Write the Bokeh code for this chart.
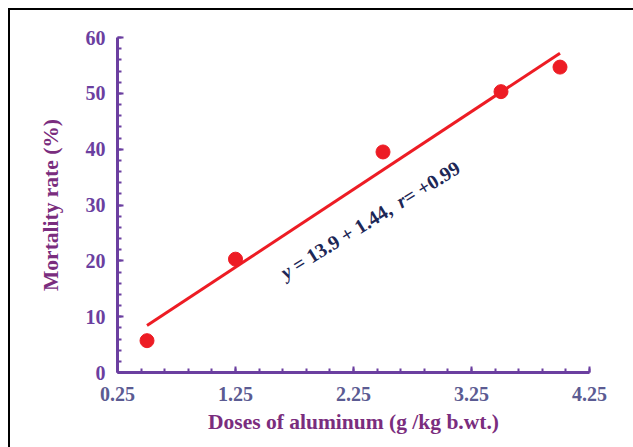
import math
import numpy as np
from bokeh.plotting import figure
from bokeh.models import Range1d, FixedTicker, Label
from bokeh.embed import file_html
from bokeh.resources import INLINE

# ---- data ----
dose = [0.5, 1.25, 2.5, 3.5, 4.0]
mortality = [5.7, 20.3, 39.5, 50.3, 54.7]
fit_x = [0.5, 4.0]
fit_y = [8.4, 57.2]
x_ticks = [0.25, 1.25, 2.25, 3.25, 4.25]
x_tick_labels = ["0.25", "1.25", "2.25", "3.25", "4.25"]
y_ticks = [0, 10, 20, 30, 40, 50, 60]
eq_pieces = ["y", "= 13.9 + 1.44,", "r", "= +0.99"]
eq_italic = [True, False, True, False]

FONT = "Liberation Serif"
AXIS_COL = "#6b3fa0"
YLAB_COL = "#6b3fa0"
XLAB_COL = "#5b5b92"
TITLE_COL = "#7a2d7e"
RED = "#ed1c24"
EQ_COL = "#1d2756"

W, H = 623, 437
p = figure(width=W, height=H, output_backend="svg", toolbar_location=None,
           x_range=Range1d(0.25, 4.25), y_range=Range1d(0, 60),
           min_border_left=107, min_border_right=46,
           min_border_top=27, min_border_bottom=77,
           styles={"border-left": "2px solid black", "border-top": "2px solid black",
                   "box-sizing": "content-box",
                   "margin-left": "8px", "margin-top": "8px"})
p.grid.visible = False
p.outline_line_color = None
p.background_fill_color = "white"
p.border_fill_color = "white"

minor_x = [round(v, 4) for v in np.arange(0.25, 4.2501, 0.2)]
p.xaxis.ticker = FixedTicker(ticks=x_ticks, minor_ticks=minor_x)
p.xaxis.major_label_overrides = {t: l for t, l in zip(x_ticks, x_tick_labels)}
minor_y = list(range(0, 61, 2))
p.yaxis.ticker = FixedTicker(ticks=y_ticks, minor_ticks=minor_y)

for ax in (p.xaxis[0], p.yaxis[0]):
    ax.axis_line_color = AXIS_COL
    ax.axis_line_width = 3
    ax.major_tick_line_color = AXIS_COL
    ax.minor_tick_line_color = AXIS_COL
    ax.major_tick_line_width = 2
    ax.minor_tick_line_width = 2
    ax.major_tick_in = 6
    ax.major_tick_out = 0
    ax.minor_tick_in = 4
    ax.minor_tick_out = 0
    ax.major_label_text_font = FONT
    ax.major_label_text_font_style = "bold"
    ax.major_label_text_font_size = "20px"
    ax.axis_label_text_font = FONT
    ax.axis_label_text_font_style = "bold"
    ax.axis_label_text_font_size = "21.5px"
    ax.axis_label_text_color = TITLE_COL

p.xaxis.major_label_text_color = XLAB_COL
p.yaxis.major_label_text_color = YLAB_COL
p.xaxis.major_label_standoff = 14
p.yaxis.major_label_standoff = 12
p.xaxis.axis_label = "Doses of aluminum (g /kg b.wt.)"
p.yaxis.axis_label = "Mortality rate (%)"
p.xaxis.axis_label_standoff = 6
p.yaxis.axis_label_standoff = 20

p.line(fit_x, fit_y, line_color=RED, line_width=3)
p.scatter(dose, mortality, size=14, fill_color=RED, line_color=RED)

# equation text along the fitted line
ang = math.radians(31.5)
start_x, start_y = 1.646, 17.7
fs = 20
adv = [8.88 + 5, 116.8 + 5, 7.78, 0]
d = 0.0
for txt, it, a in zip(eq_pieces, eq_italic, adv):
    p.add_layout(Label(x=start_x, y=start_y,
                       x_offset=d * math.cos(ang), y_offset=d * math.sin(ang),
                       angle=ang, text=txt, text_font=FONT,
                       text_font_style="bold italic" if it else "bold",
                       text_font_size=f"{fs}px", text_color=EQ_COL,
                       text_align="left", text_baseline="alphabetic"))
    d += a

open("out.html", "w").write(file_html(p, INLINE))
